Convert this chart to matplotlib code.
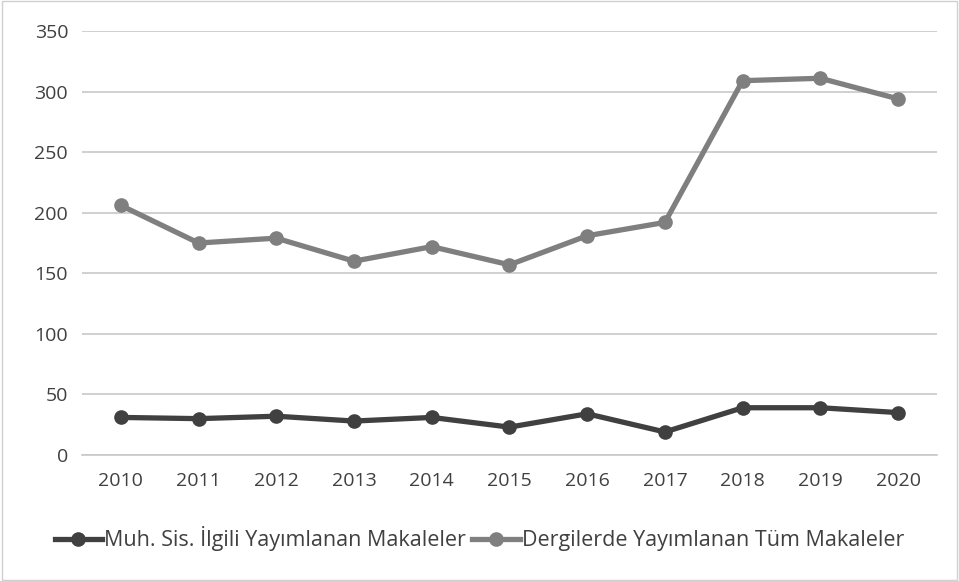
import matplotlib.pyplot as plt
from matplotlib.patches import Rectangle

# data
years = ["2010", "2011", "2012", "2013", "2014", "2015", "2016", "2017", "2018", "2019", "2020"]
muh_sis = [31, 30, 32, 28, 31, 23, 34, 19, 39, 39, 35]
tum_makaleler = [206, 175, 179, 160, 172, 157, 181, 192, 309, 311, 294]

plt.rcParams['font.family'] = ['Open Sans', 'DejaVu Sans']

fig = plt.figure(figsize=(9.59, 5.81), dpi=100)
ax = fig.add_axes([0.0855, 0.2169, 0.8915, 0.7297])

x = range(len(years))
ax.plot(x, muh_sis, color="#404040", lw=3.8, marker="o", ms=9.5,
        label="Muh. Sis. İlgili Yayımlanan Makaleler")
ax.plot(x, tum_makaleler, color="#7f7f7f", lw=3.8, marker="o", ms=9.5,
        label="Dergilerde Yayımlanan Tüm Makaleler")

ax.set_xlim(-0.5, len(years) - 0.5)
ax.set_ylim(0, 350)
ax.set_yticks(range(0, 351, 50))
ax.set_xticks(list(x))
ax.set_xticklabels(years)
ax.tick_params(axis="both", length=0, labelsize=14, labelcolor="#404040")
ax.tick_params(axis="x", pad=12)
ax.tick_params(axis="y", pad=10)
ax.grid(axis="y", color="#c8c8c8", lw=1.2)
ax.set_axisbelow(True)
for s in ["left", "right", "top"]:
    ax.spines[s].set_visible(False)
ax.spines["bottom"].set_color("#c8c8c8")
ax.spines["bottom"].set_linewidth(1.2)

leg = fig.legend(loc="center", bbox_to_anchor=(0.5, 0.073), ncol=2, frameon=False,
                 fontsize=15.5, handlelength=2.2, columnspacing=0.3, handletextpad=0.1,
                 labelcolor="#404040")

# thin frame around the chart area
fig.patches.append(Rectangle((0.002, 0.002), 0.996, 0.996, transform=fig.transFigure,
                             fill=False, edgecolor="#d0d0d0", lw=1))

fig.savefig("out.png", dpi=100)
